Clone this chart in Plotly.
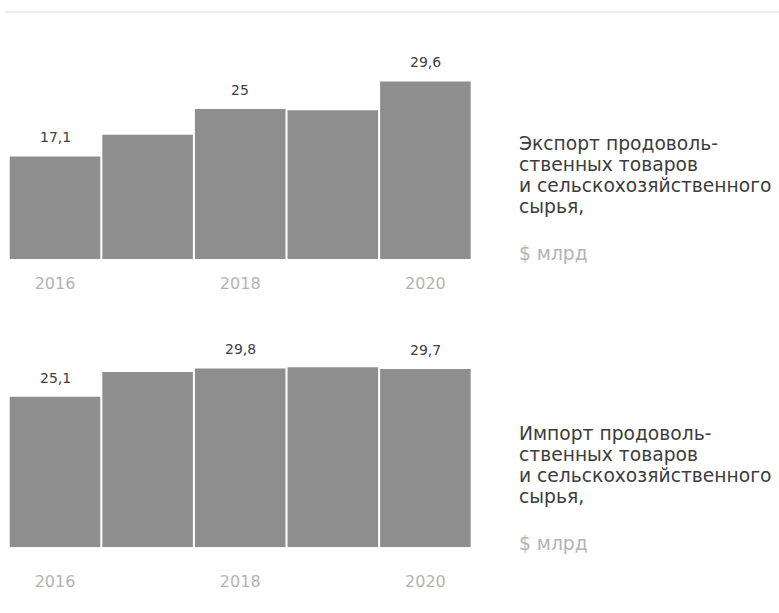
import plotly.graph_objects as go

years = [2016, 2017, 2018, 2019, 2020]
export_vals = [17.1, 20.7, 25.0, 24.8, 29.6]
import_vals = [25.1, 29.2, 29.8, 30.0, 29.7]
label_years = [2016, 2018, 2020]
tick_labels = ["2016", "2018", "2020"]
export_labels = {2016: "17,1", 2018: "25", 2020: "29,6"}
import_labels = {2016: "25,1", 2018: "29,8", 2020: "29,7"}
export_title = ["Экспорт продоволь-", "ственных товаров", "и сельскохозяйственного", "сырья,"]
import_title = ["Импорт продоволь-", "ственных товаров", "и сельскохозяйственного", "сырья,"]
unit_text = "$ млрд"

W, H = 779, 613
BAR = "#8e8e8e"
FONT = "DejaVu Sans"

fig = go.Figure()
fig.add_trace(go.Bar(x=years, y=export_vals, marker_color=BAR, marker_line_width=0,
                     xaxis="x", yaxis="y", hoverinfo="skip"))
fig.add_trace(go.Bar(x=years, y=import_vals, marker_color=BAR, marker_line_width=0,
                     xaxis="x2", yaxis="y2", hoverinfo="skip"))

xdom = [8.7 / W, 471.7 / W]
top_base, bot_base = 259.0, 547.3
pxu = 6.0
yr = [0, 35]
span = (yr[1] - yr[0]) * pxu

def dom(base):
    return [1 - base / H, 1 - (base - span) / H]

def xaxis_def(anchor, ticklen):
    return dict(domain=xdom, range=[2015.5, 2020.5], tickmode="array",
                tickvals=label_years, ticktext=tick_labels, anchor=anchor,
                showgrid=False, zeroline=False, showline=False, ticks="outside",
                ticklen=ticklen, tickcolor="white", tickangle=0,
                tickfont=dict(family=FONT, size=16, color="#b3b3b3"))

fig.update_layout(
    width=W, height=H, margin=dict(l=0, r=0, t=0, b=0),
    paper_bgcolor="white", plot_bgcolor="white", showlegend=False, bargap=0.022,
    xaxis=xaxis_def("y", 10),
    yaxis=dict(domain=dom(top_base), range=yr, visible=False),
    xaxis2=xaxis_def("y2", 19),
    yaxis2=dict(domain=dom(bot_base), range=yr, visible=False),
)

ann = []
for xa, ya, vals, labels in [("x", "y", export_vals, export_labels), ("x2", "y2", import_vals, import_labels)]:
    for yv, v in zip(years, vals):
        if yv in labels:
            ann.append(dict(x=yv, y=v, xref=xa, yref=ya, text=labels[yv], showarrow=False,
                            yshift=19, font=dict(family=FONT, size=14, color="#404040")))

def side_text(lines, top_px):
    out = []
    for i, ln in enumerate(lines):
        out.append(dict(x=517 / W, y=1 - (top_px + i * 21.3) / H, xref="paper", yref="paper",
                        xanchor="left", yanchor="middle", text=ln, showarrow=False,
                        font=dict(family=FONT, size=18.7, color="#3c3c3c")))
    out.append(dict(x=517 / W, y=1 - (top_px + 110) / H, xref="paper", yref="paper",
                    xanchor="left", yanchor="middle", text=unit_text, showarrow=False,
                    font=dict(family=FONT, size=18.7, color="#b3b3b3")))
    return out

ann += side_text(export_title, 143)
ann += side_text(import_title, 433)
fig.update_layout(annotations=ann)
fig.add_shape(type="line", xref="paper", yref="paper", x0=5 / W, x1=1, y0=1 - 12 / H, y1=1 - 12 / H,
              line=dict(color="#e6e6e6", width=1.5))

fig.write_html("out.html", config={"displayModeBar": False},
               post_script="document.body.style.margin='0';")
